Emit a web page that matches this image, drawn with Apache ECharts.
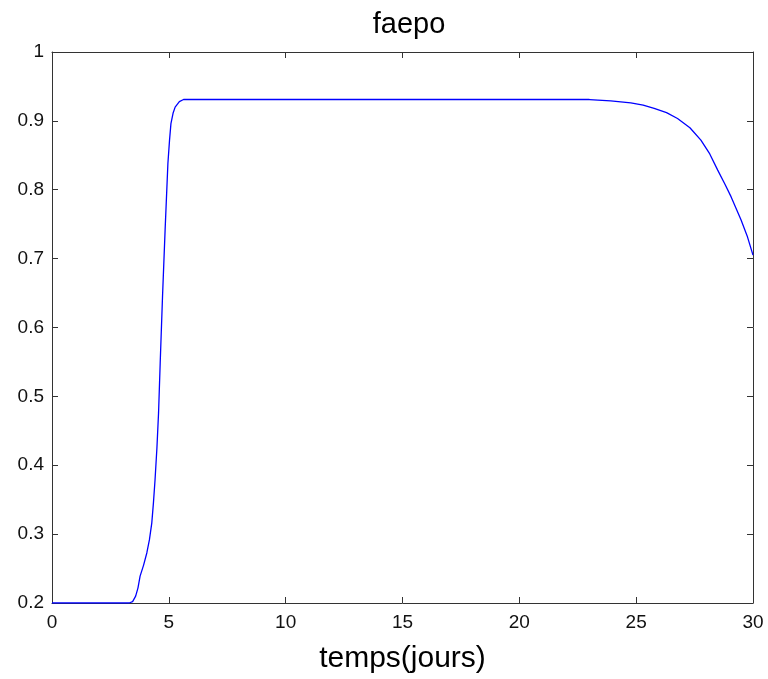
<!DOCTYPE html>
<html>
<head>
<meta charset="utf-8">
<script src="https://cdn.jsdelivr.net/npm/echarts@6/dist/echarts.min.js"></script>
<style>html,body{margin:0;padding:0;background:#fff}#c{width:768px;height:679px}</style>
</head>
<body>
<div id="c"></div>
<script>
const titleText = "faepo";
const xName = "temps(jours)";
const xTicks = [0, 5, 10, 15, 20, 25, 30];
const yTicks = [0.2, 0.3, 0.4, 0.5, 0.6, 0.7, 0.8, 0.9, 1];
const days = [0, 3.0, 3.3, 3.45, 3.58, 3.68, 3.77, 3.92, 4.06, 4.17, 4.27, 4.34, 4.41, 4.49, 4.56, 4.63, 4.73, 4.84, 4.96, 5.03, 5.09, 5.18, 5.27, 5.45, 5.63, 6, 10, 15, 20, 23, 23.91, 24.77, 25.3, 25.77, 26.3, 26.77, 27.3, 27.77, 28.15, 28.49, 28.8, 29.06, 29.49, 29.75, 30];
const faepo = [0.2, 0.2, 0.2, 0.202, 0.210, 0.222, 0.239, 0.255, 0.273, 0.292, 0.316, 0.345, 0.379, 0.425, 0.476, 0.548, 0.645, 0.741, 0.838, 0.872, 0.896, 0.911, 0.920, 0.928, 0.931, 0.931, 0.931, 0.931, 0.931, 0.931, 0.929, 0.926, 0.923, 0.918, 0.912, 0.9035, 0.890, 0.872, 0.852, 0.8285, 0.808, 0.790, 0.756, 0.733, 0.705];

const chart = echarts.init(document.getElementById('c'), null, {renderer: 'canvas'});
const axisColor = '#333';
const font = 'Liberation Sans, Arial, sans-serif';
const baseX = {
  type: 'value', min: 0, max: 30, interval: 5,
  splitLine: {show: false},
  axisLine: {show: true, onZero: false, lineStyle: {color: axisColor, width: 1}},
  axisTick: {show: true, inside: true, length: 6, lineStyle: {color: axisColor}},
};
const baseY = {
  type: 'value', min: 0.2, max: 1, interval: 0.1,
  splitLine: {show: false},
  axisLine: {show: true, onZero: false, lineStyle: {color: axisColor, width: 1}},
  axisTick: {show: true, inside: true, length: 6, lineStyle: {color: axisColor}},
};
chart.setOption({
  animation: false,
  backgroundColor: '#fff',
  title: {
    text: titleText, left: 404, top: 5, textAlign: 'center',
    textStyle: {fontFamily: font, fontSize: 29, fontWeight: 'normal', color: '#000'}
  },
  grid: {left: 52, right: 15, top: 52, bottom: 76, containLabel: false},
  xAxis: [
    Object.assign({}, baseX, {
      position: 'bottom',
      name: xName, nameLocation: 'middle', nameGap: 41,
      nameTextStyle: {fontFamily: font, fontSize: 30, color: '#000'},
      axisLabel: {show: true, margin: 10, fontFamily: font, fontSize: 19, color: '#111',
        formatter: v => xTicks.includes(v) ? String(v) : ''}
    }),
    Object.assign({}, baseX, {position: 'top', axisLabel: {show: false}})
  ],
  yAxis: [
    Object.assign({}, baseY, {
      position: 'left',
      axisLabel: {show: true, margin: 8, fontFamily: font, fontSize: 19, color: '#111',
        formatter: v => { const t = yTicks.find(k => Math.abs(k - v) < 1e-9); return t === undefined ? '' : String(t); }}
    }),
    Object.assign({}, baseY, {position: 'right', axisLabel: {show: false}})
  ],
  series: [{
    type: 'line',
    data: days.map((d, i) => [d, faepo[i]]),
    showSymbol: false,
    smooth: false,
    lineStyle: {color: '#0000ff', width: 1.3},
    z: 1
  }]
});
</script>
</body>
</html>
